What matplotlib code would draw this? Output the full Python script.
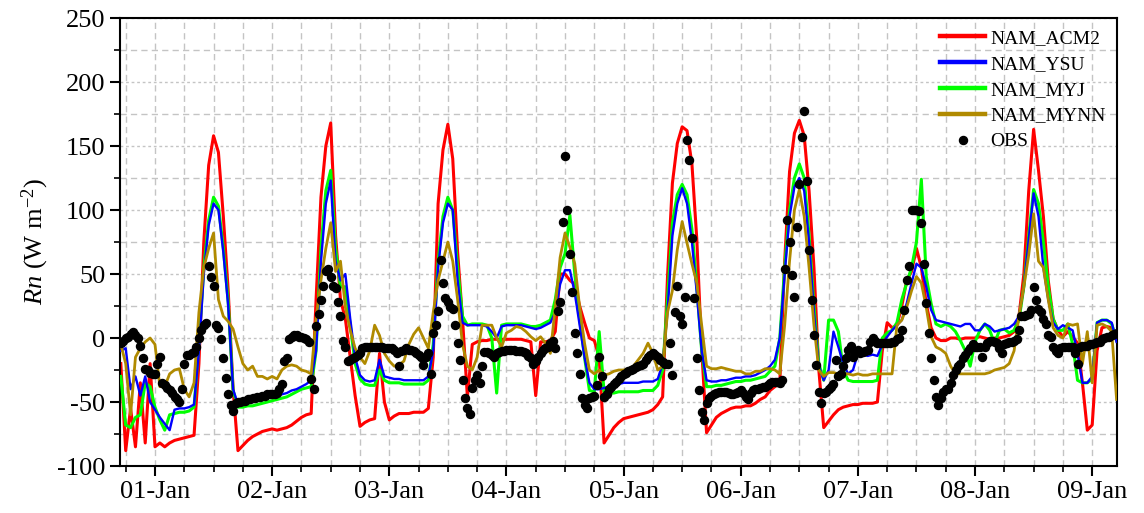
import numpy as np
import pandas as pd
import matplotlib
matplotlib.use("Agg")
import matplotlib.pyplot as plt
import matplotlib.dates as mdates
from matplotlib.ticker import MultipleLocator

plt.rcParams['font.family'] = ['Liberation Serif', 'DejaVu Serif']
plt.rcParams['mathtext.fontset'] = 'custom'
plt.rcParams['mathtext.rm'] = 'Liberation Serif'
plt.rcParams['mathtext.it'] = 'Liberation Serif:italic'
plt.rcParams['axes.unicode_minus'] = False

# hourly model output, first value at 31-Dec 17:00 (local time)
START = "2015-12-31 17:00"

acm2 = [
    -20, -88, -55, -85, -35, -82, -20,
    -85, -82, -85, -82, -80, -79, -78, -77, -76, -20, 75, 135, 158, 145, 95, 37, -40, -88, -84, -80, -77, -75, -73, -72,
    -71, -72, -71, -70, -68, -65, -62, -60, -59, 30, 110, 150, 168, 80, 30, 15, -15, -45, -69, -66, -64, -63, -12, -50,
    -64, -61, -59, -59, -59, -58, -58, -58, -55, -15, 105, 147, 167, 140, 67, 15, -46, -5, -3, -2, -2, -1, -1, -1,
    -1, -1, -1, -1, -2, -3, -45, -3, -3, -2, 5, 50, 50, 45, 42, 25, 12, 0, -2, -15, -82, -76, -70, -66,
    -63, -62, -61, -60, -59, -58, -56, -52, -46, 48, 121, 152, 165, 162, 136, 77, -9, -74, -68, -62, -59, -57, -55, -54,
    -54, -53, -53, -51, -48, -46, -41, -38, -35, 60, 130, 160, 170, 158, 115, 55, -25, -70, -65, -60, -56, -54, -53, -52,
    -52, -51, -51, -51, -50, -10, 12, 8, 10, 25, 45, 52, 70, 55, 27, 8, 0, -2, -2, 0, 0, -1, 0, 0,
    0, 1, 0, -1, 0, 0, 1, 2, 5, 17, 50, 115, 163, 131, 95, 45, 15, 6, 1, 5, 1, -4, -35, -72,
    -68, -10, 8, 9, 8, -2,
]

ysu = [
    -10, -8, -40, -30, -45, -30, -50,
    -56, -62, -67, -72, -56, -55, -55, -54, -52, -10, 50, 88, 105, 100, 67, 25, -40, -52, -51, -51, -50, -49, -48, -47,
    -46, -45, -44, -43, -41, -40, -38, -36, -33, -10, 60, 105, 123, 60, 45, 50, 15, -15, -29, -33, -34, -33, -17, -30,
    -31, -32, -32, -33, -33, -33, -33, -33, -30, -10, 55, 90, 105, 100, 45, 12, 10, 10, 10, 10, 9, 5, 0, 9,
    10, 10, 10, 10, 9, 8, 7, 8, 10, 12, 20, 42, 53, 53, 35, 10, -15, -35, -40, -40, -39, -38, -37, -36,
    -35, -35, -35, -35, -34, -34, -34, -32, -20, 20, 80, 105, 117, 105, 75, 35, -10, -33, -34, -34, -33, -33, -32, -31,
    -31, -30, -30, -29, -27, -25, -22, -17, 0, 50, 95, 118, 125, 115, 75, 20, -22, -33, -25, 5, -7, -20, -28, -25,
    -12, -13, -14, -13, -14, -5, 1, 6, 10, 14, 27, 43, 58, 55, 40, 22, 14, 13, 12, 11, 10, 9, 11, 11,
    6, 6, 11, 9, 5, 6, 7, 8, 11, 17, 40, 77, 113, 95, 55, 30, 12, 7, 10, 8, 6, -12, -35, -35,
    -30, 12, 14, 14, 12, -3,
]

myj = [
    -30, -68, -70, -62, -60, -35, -38,
    -54, -64, -72, -60, -59, -58, -58, -57, -54, -5, 55, 92, 110, 103, 70, 28, -41, -54, -54, -53, -53, -52, -51, -50,
    -49, -48, -47, -46, -44, -42, -40, -39, -38, -10, 70, 115, 131, 70, 40, 40, 10, -20, -32, -36, -37, -37, -25, -33,
    -35, -35, -35, -36, -36, -36, -36, -36, -33, -5, 60, 95, 110, 100, 55, 17, 10, 11, 11, 11, 10, 0, -43, 10,
    11, 11, 11, 11, 10, 9, 9, 10, 12, 14, 30, 55, 66, 96, 50, 15, -15, -41, -42, 5, -42, -43, -43, -42,
    -42, -42, -42, -42, -41, -41, -41, -37, -25, 30, 90, 112, 120, 112, 85, 40, -10, -38, -38, -37, -37, -36, -35, -34,
    -34, -33, -33, -32, -31, -30, -26, -22, 0, 55, 100, 125, 136, 125, 80, 25, -20, -33, 14, 14, 5, -25, -33, -34,
    -34, -34, -34, -34, -33, 0, 4, 6, 12, 30, 43, 55, 75, 124, 48, 27, 11, 9, 11, 9, 5, -2, -10, -22,
    -3, 6, 11, 6, -4, 6, 7, 4, 6, 14, 40, 80, 116, 105, 75, 40, 15, 6, 6, 11, -5, -33, -35, -35,
    -32, 12, 14, 14, 11, -2,
]

mynn = [
    -5, -20, -60, -15, -8, -3, 0,
    -5, -38, -38, -28, -25, -24, -40, -46, -35, 20, 55, 70, 82, 30, 17, 13, 7, -7, -20, -25, -22, -30, -30, -32,
    -30, -32, -25, -22, -21, -22, -25, -26, -28, 15, 45, 70, 90, 52, 60, 24, 6, -8, -15, -20, -10, 10, 2, -12,
    -18, -22, -21, -18, -5, 3, 8, 0, -8, 20, 45, 60, 75, 60, 30, -5, -22, -25, -15, 10, 10, 10, 0, -7,
    4, 6, 9, 8, 5, 1, -2, 1, -4, -12, 24, 63, 82, 71, 58, 24, -4, -25, -28, -25, -29, -28, -26, -25,
    -25, -24, -22, -17, -12, -4, -12, -25, -22, 20, 37, 69, 91, 74, 58, 43, 10, -22, -24, -24, -23, -24, -25, -26,
    -26, -28, -28, -26, -26, -24, -24, -25, -28, 10, 60, 100, 116, 95, 55, 10, -25, -30, -27, -27, -28, -28, -28, -29,
    -28, -29, -29, -28, -28, -28, -28, -28, 10, 14, 24, 37, 48, 43, 24, 1, -7, -9, -12, -22, -28, -28, -28, -28,
    -28, -28, -28, -27, -25, -24, -23, -20, -10, 17, 40, 65, 97, 60, 55, 30, 8, 2, 0, 11, 10, 11, -20, 5,
    -35, 10, 11, 9, 5, -48,
]

# half-hourly observations, same start time
obs = [
    -4, -2, 0, 1, 3, 5, 2, 0, -6, -16, -24, -25, -27, -28,
    -28, -20, -15, -35, -37, -39, -41, -43, -46, -48, -50, -40, -20, -13, -13, -12, -11, -7, 0, 6, 10, 12, 56, 48,
    41, 10, 8, -1, -16, -31, -44, -52, -57, -51, -50, -50, -49, -49, -48, -48, -47, -47, -46, -46, -45, -45, -44, -44,
    -44, -44, -43, -40, -36, -18, -16, -1, 1, 2, 2, 1, 1, 0, -1, -3, -32, -40, 9, 19, 30, 41, 52, 54,
    48, 41, 39, 28, 17, -2, -7, -18, -17, -16, -15, -13, -12, -8, -7, -7, -7, -7, -7, -7, -7, -7, -8, -8,
    -8, -8, -9, -12, -22, -10, -9, -8, -9, -9, -10, -12, -13, -15, -21, -15, -12, -28, 4, 10, 21, 61, 43, 31,
    28, 24, 23, 10, -4, -17, -33, -47, -55, -59, -39, -33, -29, -35, -22, -11, -11, -12, -13, -15, -12, -11, -10, -10,
    -9, -9, -9, -9, -10, -10, -10, -11, -12, -14, -16, -20, -18, -15, -12, -9, -8, -7, -4, -2, -8, 21, 28, 91,
    142, 100, 66, 36, 4, -12, -28, -47, -52, -55, -47, -46, -45, -37, -15, -30, -46, -44, -40, -38, -36, -34, -32, -30,
    -28, -27, -26, -25, -24, -23, -22, -21, -20, -17, -15, -13, -12, -13, -15, -17, -19, -20, -20, -4, -29, 20, 41, 17,
    11, 32, 155, 139, 78, 31, -16, -41, -58, -64, -51, -47, -45, -44, -43, -42, -42, -42, -42, -43, -44, -44, -43, -42,
    -41, -43, -46, -48, -43, -41, -40, -40, -39, -38, -38, -37, -35, -34, -34, -34, -35, -33, 54, 92, 75, 49, 32, 87,
    120, 157, 177, 123, 69, 30, 2, -21, -42, -51, -43, -42, -40, -38, -36, -17, -30, -28, -22, -16, -9, -6, -15, -10,
    -9, -12, -11, -10, -9, -3, 0, -2, -4, -4, -4, -4, -4, -4, -3, -3, -1, 0, 6, 22, 45, 56, 100, 100,
    100, 99, 90, 58, 27, 4, -16, -33, -46, -52, -47, -42, -40, -40, -35, -29, -25, -22, -20, -16, -13, -10, -8, -5,
    -7, -7, -7, -15, -7, -4, -2, -2, -3, -4, -8, -12, -5, -4, -3, -3, -2, -1, 6, 17, 17, 18, 19, 22,
    40, 30, 23, 20, 15, 11, 2, 1, -7, -10, -12, -8, -7, -7, -7, -7, -7, -12, -20, -7, -6, -6, -6, -5,
    -5, -4, -3, -3, -1, 0, 1, 1, 2, 3, 4, 5,
]

series = [
    ("NAM_ACM2", acm2, "#ff0000", 2.2),
    ("NAM_YSU", ysu, "#0000ff", 1.7),
    ("NAM_MYJ", myj, "#00ff00", 2.2),
    ("NAM_MYNN", mynn, "#b08a00", 2.0),
]
draw_order = {"NAM_ACM2": 2, "NAM_MYJ": 3, "NAM_YSU": 4, "NAM_MYNN": 5}

model_time = pd.date_range(START, periods=len(acm2), freq="h")
obs_time = pd.date_range(START, periods=len(obs), freq="30min")

fig = plt.figure(figsize=(11.44, 5.13), dpi=100)
ax = fig.add_axes([0.1049, 0.0916, 0.8715, 0.8733])

for name, vals, color, lw in series:
    ax.plot(model_time, vals, color=color, lw=lw, label=name,
            zorder=draw_order[name], solid_joinstyle="round")
ax.plot(obs_time, obs, linestyle="none", marker="o", ms=5.8,
        color="black", label="OBS", zorder=6)

ax.set_xlim(pd.Timestamp("2015-12-31 16:50"), pd.Timestamp("2016-01-09 05:05"))
ax.set_ylim(-100, 250)

ax.xaxis.set_major_locator(mdates.DayLocator())
ax.xaxis.set_major_formatter(mdates.DateFormatter("%d-%b"))
ax.xaxis.set_minor_locator(mdates.HourLocator(byhour=[0, 6, 12, 18]))
ax.yaxis.set_major_locator(MultipleLocator(50))
ax.yaxis.set_minor_locator(MultipleLocator(25))

grid_col = "#c4c4c4"
ax.yaxis.grid(True, which="major", color=grid_col, linestyle=(0, (2, 2)), lw=1.0)
ax.yaxis.grid(True, which="minor", color=grid_col, linestyle=(0, (4.5, 3)), lw=1.0)
ax.xaxis.grid(True, which="both", color=grid_col, linestyle=(0, (4.5, 3)), lw=1.0)
ax.set_axisbelow(True)

ax.tick_params(which="major", direction="out", length=7, width=1.5,
               labelsize=19, top=False, right=False)
ax.tick_params(which="minor", direction="out", length=4, width=1.2,
               top=False, right=False)
for sp in ax.spines.values():
    sp.set_linewidth(1.5)

ax.set_ylabel(r"$Rn$ (W m$^{-2}$)", fontsize=19, labelpad=4)

leg = ax.legend(loc="upper right", frameon=False, fontsize=14, numpoints=1,
                handlelength=2.3, handletextpad=0.25, labelspacing=0.42,
                borderaxespad=0.2)
for ln in leg.get_lines()[:4]:
    ln.set_linewidth(3.2)

fig.savefig("out.png", dpi=100)
